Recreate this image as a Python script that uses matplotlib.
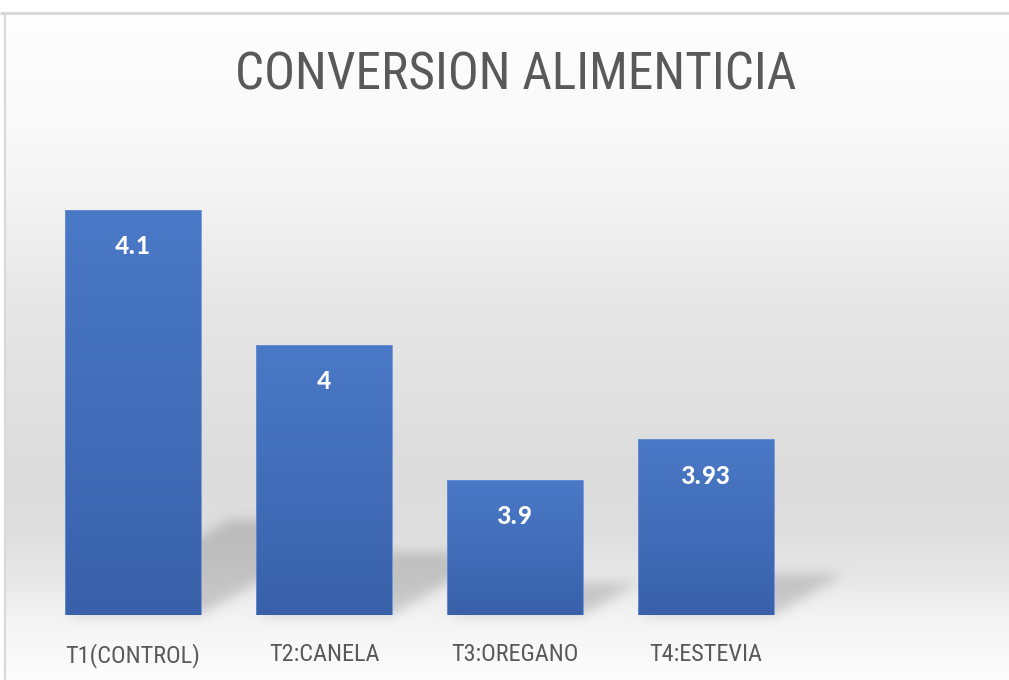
import numpy as np
import matplotlib
matplotlib.use('Agg')
import matplotlib.pyplot as plt

# ── data ──
categories = ['T1(CONTROL)', 'T2:CANELA', 'T3:OREGANO', 'T4:ESTEVIA']
values = [4.1, 4.0, 3.9, 3.93]
value_labels = ['4.1', '4', '3.9', '3.93']
title = 'CONVERSION ALIMENTICIA'

NARROW = ['Roboto Condensed', 'DejaVu Sans']
GREY_TXT = '#595959'
BAR_TOP = np.array([0x4a, 0x79, 0xc7]) / 255
BAR_BOT = np.array([0x39, 0x61, 0xaa]) / 255

W, H = 1009, 680
fig = plt.figure(figsize=(W / 100, H / 100), dpi=100)
fig.patch.set_facecolor('white')

bg = fig.add_axes([0, 0, 1, 1], zorder=0)
bg.set_axis_off()
ax = fig.add_axes([37.5 / W, 65 / H, 955 / W, 486 / H], zorder=1)
ax.set_facecolor('none')
ymin = 3.8
ax.set_xlim(-0.5, 4.5)
ax.set_ylim(ymin, ymin + 486 / 1350)
for s in ax.spines.values():
    s.set_visible(False)
ax.set_yticks([])
ax.set_xticks(range(len(categories)))
ax.set_xticklabels(categories, family=NARROW, fontsize=17.5, color=GREY_TXT)
ax.tick_params(axis='x', length=0, pad=20)

bw = 0.707

# ── background: vertical grey gradient + perspective shadows ──
stops_y = [0, 14, 130, 200, 300, 470, 530, 580, 620, 680]
stops_v = [254, 254, 249, 243, 231, 220, 222, 232, 244, 253]
col = np.interp(np.arange(H) + 0.5, stops_y, stops_v) / 255
img = np.repeat(col[:, None], W, axis=1)

fig.canvas.draw()
px, py = np.meshgrid(np.arange(W) + 0.5, np.arange(H) + 0.5)
shade = np.zeros((H, W))
f, th = 0.47, np.radians(30)
for i, v in enumerate(values):
    (xl, yb), (xr, yt) = ax.transData.transform([(i - bw / 2, ymin), (i + bw / 2, v)])
    base, bh = H - yb, yt - yb
    d = base - py
    hh = d / (f * np.sin(th))
    xs = px - d / np.tan(th)
    m = (hh >= 0) & (hh <= bh) & (xs >= xl) & (xs <= xr)
    shade = np.maximum(shade, m.astype(float))

sig = 6
k = np.exp(-0.5 * (np.arange(-3 * sig, 3 * sig + 1) / sig) ** 2)
k /= k.sum()
shade = np.apply_along_axis(lambda r: np.convolve(r, k, 'same'), 1, shade)
shade = np.apply_along_axis(lambda r: np.convolve(r, k, 'same'), 0, shade)
img = img * (1 - 0.16 * shade)

img[:12, :] = 1.0
img[:, :4] = 1.0
rgb = np.dstack([img, img, img])
bg.imshow(rgb, extent=(0, W, H, 0), aspect='auto', interpolation='bilinear')
bg.set_xlim(0, W)
bg.set_ylim(H, 0)
bg.plot([0, W], [12.5, 12.5], color='#d9d9d9', lw=2.2, solid_capstyle='butt')
bg.plot([5, 5], [12, H], color='#d9d9d9', lw=1.6, solid_capstyle='butt')

# ── bars with vertical gradient ──
grad = np.linspace(0, 1, 256)[:, None]
bar_img = BAR_TOP[None, None, :] * (1 - grad[:, :, None]) + BAR_BOT[None, None, :] * grad[:, :, None]
for i, (v, lab) in enumerate(zip(values, value_labels)):
    ax.imshow(bar_img, extent=(i - bw / 2, i + bw / 2, ymin, v), aspect='auto',
              interpolation='bilinear', zorder=2)
    ax.add_patch(plt.Rectangle((i - bw / 2, ymin), bw, v - ymin, fill=False,
                               edgecolor='#6a90d2', lw=0.6, zorder=3))
    ax.annotate(lab, xy=(i, v), xytext=(0, -26), textcoords='offset points',
                ha='center', va='center', color='white', fontsize=20,
                fontweight='bold', family=['Carlito', 'DejaVu Sans'], zorder=4)
ax.set_xlim(-0.5, 4.5)
ax.set_ylim(ymin, ymin + 486 / 1350)

fig.text(516 / W, 1 - 75 / H, title, ha='center', va='center', family=NARROW,
         fontsize=37, color=GREY_TXT)

fig.savefig('out.png', dpi=100, facecolor='white')
